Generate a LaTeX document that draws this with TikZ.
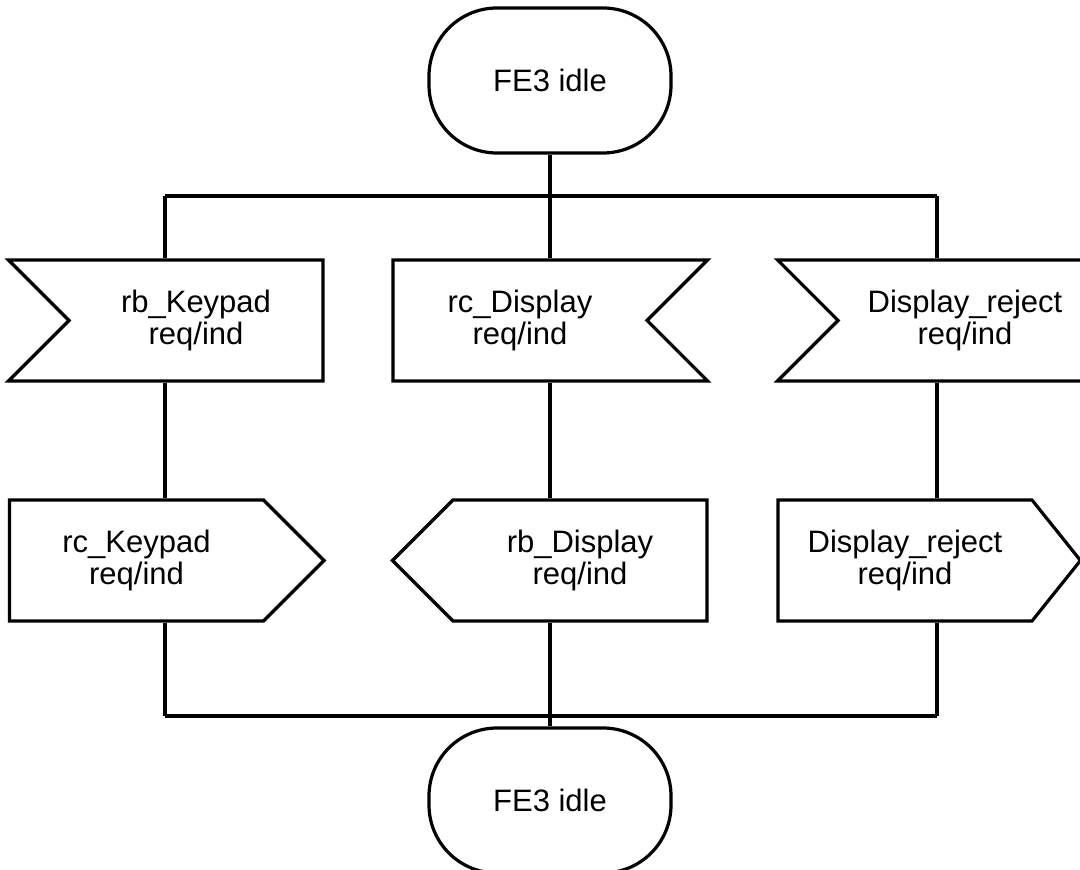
\documentclass[tikz,border=0pt]{standalone}
\usepackage{fontspec}
\setmainfont{Liberation Sans}
\usetikzlibrary{positioning,shapes.symbols}

\begin{document}
\begin{tikzpicture}[x=0.5pt, y=-0.5pt, line width=1.6pt,
                    statenode/.style={rectangle, rounded corners=34pt, draw, minimum width=121pt, minimum height=72.5pt, font=\fontsize{15.5}{16}\selectfont},
                    signode/.style={signal, draw, signal to=nowhere, signal from=nowhere, signal pointer angle=90, inner xsep=0pt, text width=127pt, align=center, minimum height=60.5pt, font=\fontsize{15.5}{16}\selectfont},
                    recvnode/.style={signode, signal from=#1},
                    sendnode/.style={signode, signal to=#1},]
    \useasboundingbox (0,0) rectangle (1080,870);
    \clip (0,0) rectangle (1080,870);
    % nodes
    \node[statenode]      (idleTop)   at (550,80.5)    {FE3 idle};
    \node[recvnode=west]  (rbKeyIn)   at (196,320.5)   {rb\_Keypad\\req/ind};
    \node[recvnode=east]  (rcDispIn)  at (520,320.5)   {rc\_Display\\req/ind};
    \node[recvnode=west]  (rejIn)     at (965,320.5)   {Display\_reject\\req/ind};
    \node[sendnode=east]  (rcKeyOut)  at (136.5,560.5) {rc\_Keypad\\req/ind};
    \node[sendnode=west]  (rbDispOut) at (580,560.5)   {rb\_Display\\req/ind};
    \node[sendnode=east, signal pointer angle=102.6]  (rejOut)    at (905,560.5)   {Display\_reject\\req/ind};
    \node[statenode]      (idleBot)   at (550,800.5)   {FE3 idle};
    % branch points
    \coordinate (splitL) at (165,196);
    \coordinate (splitC) at (550,196);
    \coordinate (splitR) at (937,196);
    \coordinate (joinL)  at (165,716);
    \coordinate (joinC)  at (550,716);
    \coordinate (joinR)  at (937,716);
    % lines
    \draw (idleTop.south) -- (splitC);
    \draw (splitL) -- (splitR);
    \draw (splitL) -- (rbKeyIn.north -| splitL);
    \draw (splitC) -- (rcDispIn.north -| splitC);
    \draw (splitR) -- (rejIn.north -| splitR);
    \draw (rbKeyIn.south -| splitL) -- (rcKeyOut.north -| splitL);
    \draw (rcDispIn.south -| splitC) -- (rbDispOut.north -| splitC);
    \draw (rejIn.south -| splitR) -- (rejOut.north -| splitR);
    \draw (rcKeyOut.south -| joinL) -- (joinL);
    \draw (rbDispOut.south -| joinC) -- (joinC);
    \draw (rejOut.south -| joinR) -- (joinR);
    \draw (joinL) -- (joinR);
    \draw (joinC) -- (idleBot.north);
\end{tikzpicture}
\end{document}
